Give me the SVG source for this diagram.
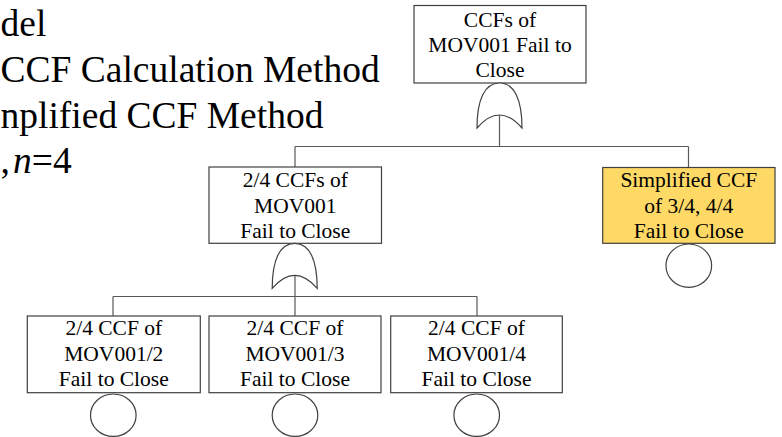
<svg xmlns="http://www.w3.org/2000/svg" width="782" height="437" viewBox="0 0 782 437">
  <style>
    .title { font-family: "Liberation Serif", "Times New Roman", serif; font-size: 37.5px; fill: #000; }
    .box { fill: #fff; stroke: #404040; stroke-width: 1.2; }
    .box.hl { fill: #ffd966; }
    .lbl { font-family: "Liberation Serif", "Times New Roman", serif; font-size: 21.5px; fill: #000; text-anchor: middle; }
    .wire { fill: none; stroke: #595959; stroke-width: 1.2; }
    .gate { fill: #fff; stroke: #404040; stroke-width: 1.2; }
    .basic { fill: #fff; stroke: #404040; stroke-width: 1.2; }
  </style>
  <defs>
    <!-- OR gate outline, apex at (0,0) -->
    <path id="orGate" d="M-22.5,45 C-22.5,17 -15,0 0,0 C15,0 22.5,17 22.5,45 Q0,19 -22.5,45 Z"/>
  </defs>

  <rect width="782" height="437" fill="#fff"/>

  <!-- slide title lines -->
  <g id="title">
    <text class="title" x="0.5" y="36">del</text>
    <text class="title" x="0.5" y="82">CCF Calculation Method</text>
    <text class="title" x="0.5" y="128">nplified CCF Method</text>
    <text class="title" x="0.5" y="173">,<tspan x="13" font-style="italic">n</tspan>=4</text>
  </g>

  <!-- connectors -->
  <g id="connectors">
    <path class="wire" d="M499.5,115 V146.5 M295,146.5 H688.5 M295,146.5 V167 M688.5,146.5 V167.5"/>
    <path class="wire" d="M295,275 V316 M113,296.5 H477 M113,296.5 V316 M477,296.5 V316"/>
  </g>

  <!-- top event -->
  <g id="top-event">
    <rect class="box" x="414" y="5.5" width="172" height="77.5"/>
    <text class="lbl" x="500" y="26.5">CCFs of</text>
    <text class="lbl" x="500" y="52">MOV001 Fail to</text>
    <text class="lbl" x="500" y="77">Close</text>
    <use href="#orGate" class="gate" x="499.5" y="83"/>
  </g>

  <!-- 2/4 intermediate event -->
  <g id="ccf-2of4">
    <rect class="box" x="209" y="167" width="172.5" height="76.3"/>
    <text class="lbl" x="295.3" y="186.7">2/4 CCFs of</text>
    <text class="lbl" x="295.3" y="212.5">MOV001</text>
    <text class="lbl" x="295.3" y="238">Fail to Close</text>
    <use href="#orGate" class="gate" x="294.7" y="243.3"/>
  </g>

  <!-- simplified 3/4, 4/4 event -->
  <g id="ccf-simplified">
    <rect class="box hl" x="602.7" y="167.5" width="172.3" height="75.8"/>
    <text class="lbl" x="688.8" y="186.7">Simplified CCF</text>
    <text class="lbl" x="688.8" y="212.8">of 3/4, 4/4</text>
    <text class="lbl" x="688.8" y="237.8">Fail to Close</text>
    <ellipse class="basic" cx="688.8" cy="265.7" rx="22.8" ry="21.7"/>
  </g>

  <!-- basic events -->
  <g id="ccf-mov001-2">
    <rect class="box" x="27.3" y="316" width="173" height="76.7"/>
    <text class="lbl" x="113.8" y="335">2/4 CCF of</text>
    <text class="lbl" x="113.8" y="360.7">MOV001/2</text>
    <text class="lbl" x="113.8" y="386">Fail to Close</text>
    <ellipse class="basic" cx="113.3" cy="415.2" rx="22.8" ry="21.2"/>
  </g>

  <g id="ccf-mov001-3">
    <rect class="box" x="209" y="316" width="172" height="76.7"/>
    <text class="lbl" x="295" y="335">2/4 CCF of</text>
    <text class="lbl" x="295" y="360.7">MOV001/3</text>
    <text class="lbl" x="295" y="386">Fail to Close</text>
    <ellipse class="basic" cx="295" cy="415.2" rx="22.8" ry="21.2"/>
  </g>

  <g id="ccf-mov001-4">
    <rect class="box" x="390.7" y="316" width="171.6" height="76.7"/>
    <text class="lbl" x="476.5" y="335">2/4 CCF of</text>
    <text class="lbl" x="476.5" y="360.7">MOV001/4</text>
    <text class="lbl" x="476.5" y="386">Fail to Close</text>
    <ellipse class="basic" cx="476.7" cy="415.2" rx="22.8" ry="21.2"/>
  </g>
</svg>
